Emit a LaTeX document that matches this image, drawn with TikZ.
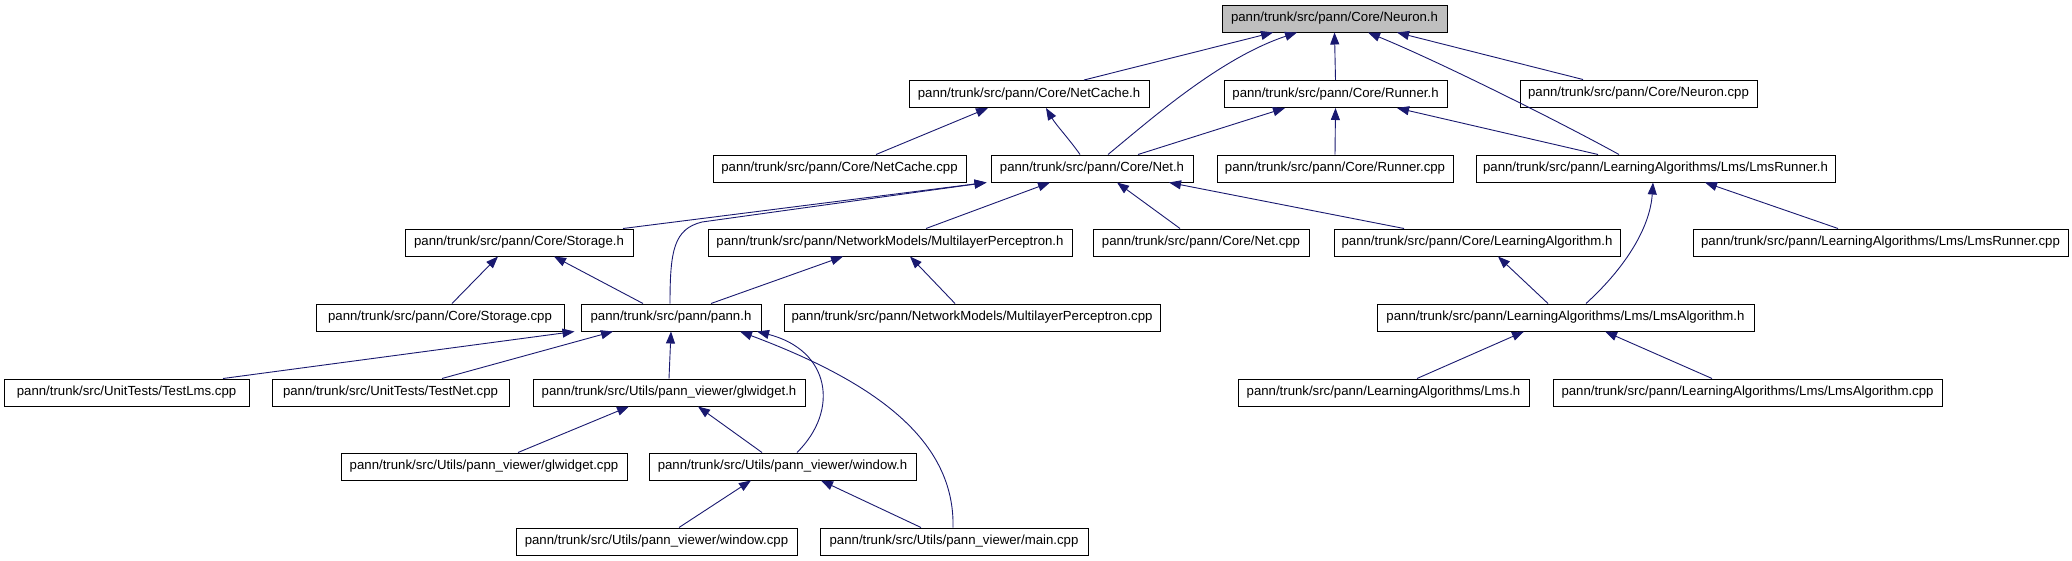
\documentclass[tikz,border=0pt]{standalone}
\usepackage{fontspec}
\setmainfont{Liberation Sans}
\usetikzlibrary{arrows.meta}
\definecolor{edgeblue}{RGB}{25,25,112}
\definecolor{mainfill}{RGB}{191,191,191}
\tikzset{
  filebox/.style={draw=black, line width=1pt, fill=white, inner sep=0pt, minimum height=27pt, font=\fontsize{13.2}{15}\selectfont},
  mainbox/.style={filebox, fill=mainfill},
  edge/.style={draw=edgeblue, line width=0.9pt, -{Triangle[length=12pt,width=9pt]}}
}
\begin{document}
\begin{tikzpicture}[x=1pt,y=-1pt]
\useasboundingbox[fill=white] (0,0) rectangle (2072,560);
% row 0
\node[mainbox, minimum width=225pt] (neuronh) at (1334.5,18.5) {pann/trunk/src/pann/Core/Neuron.h};
% row 1
\node[filebox, minimum width=240pt] (netcacheh) at (1029,94) {pann/trunk/src/pann/Core/NetCache.h};
\node[filebox, minimum width=223pt] (runnerh) at (1335.5,94) {pann/trunk/src/pann/Core/Runner.h};
\node[filebox, minimum width=237pt] (neuroncpp) at (1638.5,93.5) {pann/trunk/src/pann/Core/Neuron.cpp};
% row 2
\node[filebox, minimum width=253pt] (netcachecpp) at (839.5,168.5) {pann/trunk/src/pann/Core/NetCache.cpp};
\node[filebox, minimum width=202pt] (neth) at (1092,168.5) {pann/trunk/src/pann/Core/Net.h};
\node[filebox, minimum width=236pt] (runnercpp) at (1335,168.5) {pann/trunk/src/pann/Core/Runner.cpp};
\node[filebox, minimum width=359pt] (lmsrunnerh) at (1655.5,168.5) {pann/trunk/src/pann/LearningAlgorithms/Lms/LmsRunner.h};
% row 3
\node[filebox, minimum width=228pt] (storageh) at (519,242.5) {pann/trunk/src/pann/Core/Storage.h};
\node[filebox, minimum width=364pt] (mlph) at (890,242.5) {pann/trunk/src/pann/NetworkModels/MultilayerPerceptron.h};
\node[filebox, minimum width=216pt] (netcpp) at (1201,242.5) {pann/trunk/src/pann/Core/Net.cpp};
\node[filebox, minimum width=286pt] (lah) at (1477,242.5) {pann/trunk/src/pann/Core/LearningAlgorithm.h};
\node[filebox, minimum width=375pt] (lmsrunnercpp) at (1880.5,242.5) {pann/trunk/src/pann/LearningAlgorithms/Lms/LmsRunner.cpp};
% row 4
\node[filebox, minimum width=248pt] (storagecpp) at (440,317.5) {pann/trunk/src/pann/Core/Storage.cpp};
\node[filebox, minimum width=180pt] (pannh) at (671,317.5) {pann/trunk/src/pann/pann.h};
\node[filebox, minimum width=376pt] (mlpcpp) at (972,317.5) {pann/trunk/src/pann/NetworkModels/MultilayerPerceptron.cpp};
\node[filebox, minimum width=377pt] (lmsalgh) at (1565.5,317.5) {pann/trunk/src/pann/LearningAlgorithms/Lms/LmsAlgorithm.h};
% row 5
\node[filebox, minimum width=245pt] (testlms) at (126.5,392.5) {pann/trunk/src/UnitTests/TestLms.cpp};
\node[filebox, minimum width=237pt] (testnet) at (390.5,392.5) {pann/trunk/src/UnitTests/TestNet.cpp};
\node[filebox, minimum width=272pt] (glwidgeth) at (669,392.5) {pann/trunk/src/Utils/pann\_viewer/glwidget.h};
\node[filebox, minimum width=291pt] (lmsh) at (1383.5,392.5) {pann/trunk/src/pann/LearningAlgorithms/Lms.h};
\node[filebox, minimum width=389pt] (lmsalgcpp) at (1747.5,392.5) {pann/trunk/src/pann/LearningAlgorithms/Lms/LmsAlgorithm.cpp};
% row 6
\node[filebox, minimum width=286pt] (glwidgetcpp) at (484,466.5) {pann/trunk/src/Utils/pann\_viewer/glwidget.cpp};
\node[filebox, minimum width=267pt] (windowh) at (782.5,466.5) {pann/trunk/src/Utils/pann\_viewer/window.h};
% row 7
\node[filebox, minimum width=281pt] (windowcpp) at (656.5,541.5) {pann/trunk/src/Utils/pann\_viewer/window.cpp};
\node[filebox, minimum width=268pt] (maincpp) at (954,541.5) {pann/trunk/src/Utils/pann\_viewer/main.cpp};

% edges to Neuron.h
\draw[edge] ([xshift=55pt]netcacheh.north) -- ([xshift=-61.5pt]neuronh.south);
\draw[edge] ([xshift=16pt]neth.north) .. controls (1150,120) and (1220,58) .. ([xshift=-37.5pt]neuronh.south);
\draw[edge] (runnerh.north) -- (neuronh.south);
\draw[edge] ([xshift=-36.5pt]lmsrunnerh.north) .. controls (1560,122) and (1440,62) .. ([xshift=33.5pt]neuronh.south);
\draw[edge] ([xshift=-55.5pt]neuroncpp.north) -- ([xshift=62.5pt]neuronh.south);
% edges to NetCache.h
\draw[edge] ([xshift=36.5pt]netcachecpp.north) -- ([xshift=-41pt]netcacheh.south);
\draw[edge] ([xshift=-12pt]neth.north) .. controls (1070,140) and (1056,125) .. ([xshift=17pt]netcacheh.south);
% edges to Runner.h
\draw[edge] ([xshift=46pt]neth.north) -- ([xshift=-50.5pt]runnerh.south);
\draw[edge] (runnercpp.north) -- (runnerh.south);
\draw[edge] ([xshift=-57.5pt]lmsrunnerh.north) -- ([xshift=61.5pt]runnerh.south);
% edges to Net.h
\draw[edge] ([xshift=104pt]storageh.north) -- ([xshift=-4pt]neth.south west);
\draw[edge] ([xshift=-1pt]pannh.north) .. controls (670,250) and (674,229) .. (702,222) -- ([xshift=-4pt]neth.south west);
\draw[edge] ([xshift=36pt]mlph.north) -- ([xshift=-42pt]neth.south);
\draw[edge] ([xshift=-21pt]netcpp.north) -- ([xshift=25pt]neth.south);
\draw[edge] ([xshift=-73pt]lah.north) -- ([xshift=77pt]neth.south);
% edges to LmsRunner.h
\draw[edge] ([xshift=20.5pt]lmsalgh.north) .. controls (1625,268) and (1650,228) .. ([xshift=-2.5pt]lmsrunnerh.south);
\draw[edge] ([xshift=-42.5pt]lmsrunnercpp.north) -- ([xshift=49.5pt]lmsrunnerh.south);
% edges to Storage.h
\draw[edge] ([xshift=12pt]storagecpp.north) -- ([xshift=-21pt]storageh.south);
\draw[edge] ([xshift=-28pt]pannh.north) -- ([xshift=35pt]storageh.south);
% edges to MultilayerPerceptron.h
\draw[edge] ([xshift=40pt]pannh.north) -- ([xshift=-47pt]mlph.south);
\draw[edge] ([xshift=-17pt]mlpcpp.north) -- ([xshift=20pt]mlph.south);
% edge to LearningAlgorithm.h
\draw[edge] ([xshift=-17.5pt]lmsalgh.north) -- ([xshift=21pt]lah.south);
% edges to pann.h
\draw[edge] ([xshift=96.5pt]testlms.north) -- ([xshift=-6pt]pannh.south west);
\draw[edge] ([xshift=51.5pt]testnet.north) -- ([xshift=-58pt]pannh.south);
\draw[edge] (glwidgeth.north) -- (pannh.south);
\draw[edge] ([xshift=14.5pt]windowh.north) .. controls (840,410) and (830,350) .. ([xshift=86pt]pannh.south);
\draw[edge] ([xshift=-1pt]maincpp.north) .. controls (955,440) and (875,382) .. ([xshift=69pt]pannh.south);
% edges to glwidget.h
\draw[edge] ([xshift=34pt]glwidgetcpp.north) -- ([xshift=-40pt]glwidgeth.south);
\draw[edge] ([xshift=-20.5pt]windowh.north) -- ([xshift=29pt]glwidgeth.south);
% edges to window.h
\draw[edge] ([xshift=22.5pt]windowcpp.north) -- ([xshift=-31.5pt]windowh.south);
\draw[edge] ([xshift=-33pt]maincpp.north) -- ([xshift=38.5pt]windowh.south);
% edges to LmsAlgorithm.h
\draw[edge] ([xshift=33.5pt]lmsh.north) -- ([xshift=-41.5pt]lmsalgh.south);
\draw[edge] ([xshift=-35.5pt]lmsalgcpp.north) -- ([xshift=39.5pt]lmsalgh.south);
\end{tikzpicture}
\end{document}
